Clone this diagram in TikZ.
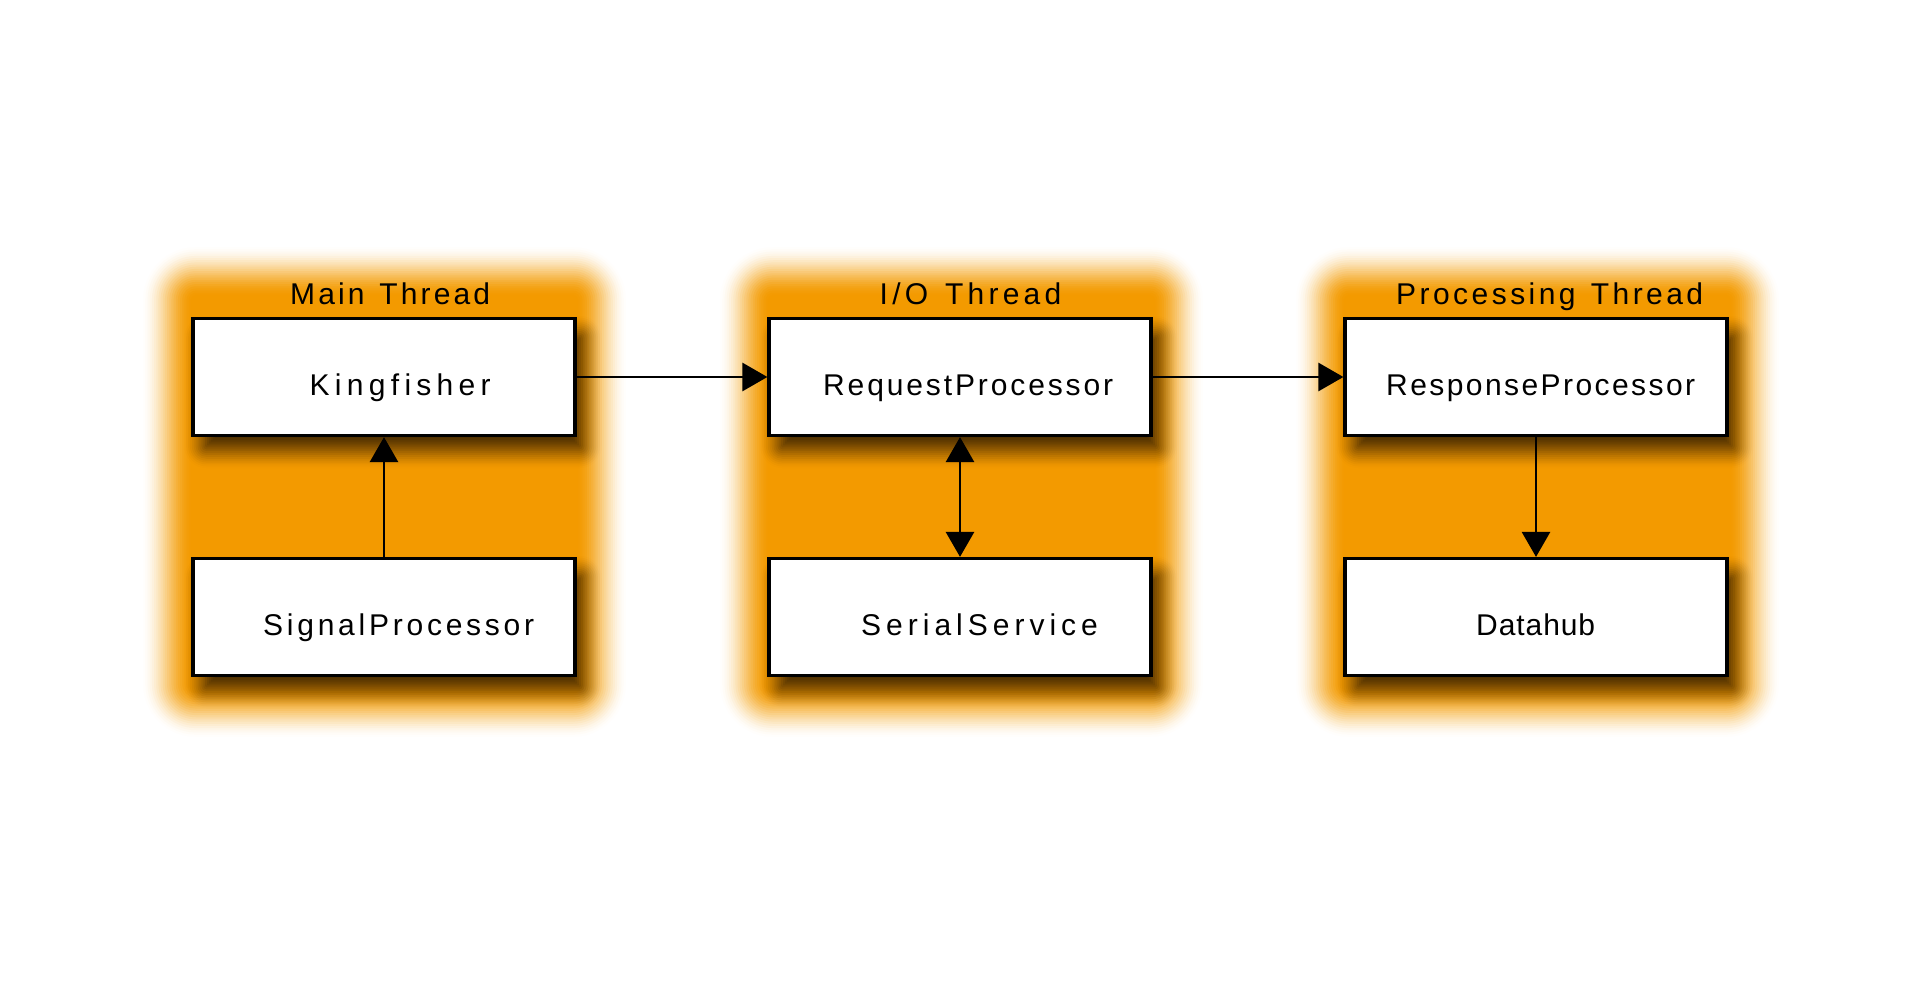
\documentclass[tikz,border=0pt]{standalone}
\usepackage{fontspec}
\usetikzlibrary{arrows.meta}
\newfontfamily\labfont{Liberation Sans}
\definecolor{thr}{RGB}{243,154,0}
\pgfdeclarelayer{bg}
\pgfsetlayers{bg,main}
\newdimen\lsk
\def\lsA#1{\ifx\relax#1\else#1\kern\lsk\expandafter\lsA\fi}
\newcommand\spread[3]{\setbox0\hbox{\lsk=0pt\lsA#3\relax}\lsk=\dimexpr(#1-\wd0)/#2\relax\lsA#3\relax}
\newcommand\panelblur[4]{%
 \foreach \k in {0,...,23}{%
  \pgfmathsetmacro\pE{26-52*(\k+0.5)/24}%
  \pgfmathsetmacro\pU{(\k+0.5)/24}%
  \pgfmathsetmacro\pT{100*(3*\pU*\pU-2*\pU*\pU*\pU)}%
  \pgfmathsetmacro\pR{max(4,30+\pE)}%
  \pgfmathsetmacro\xa{#1-\pE}\pgfmathsetmacro\ya{#2-\pE}%
  \pgfmathsetmacro\xb{#3+\pE}\pgfmathsetmacro\yb{#4+\pE}%
  \fill[thr!\pT!white, rounded corners=\pR pt] (\xa,\ya) rectangle (\xb,\yb);
 }}
\newcommand\boxshadow[1]{%
 \foreach \k in {0,...,19}{%
  \pgfmathsetmacro\pE{19-38*(\k+0.5)/20}%
  \pgfmathsetmacro\pU{(\k+0.5)/20}%
  \pgfmathsetmacro\pV{max(0,(\k-0.5)/20)}%
  \pgfmathsetmacro\pA{0.68*(3*\pU*\pU-2*\pU*\pU*\pU)}%
  \pgfmathsetmacro\pB{(\k>0)*0.68*(3*\pV*\pV-2*\pV*\pV*\pV)}%
  \pgfmathsetmacro\pO{(\pA-\pB)/(1-\pB)}%
  \pgfmathsetmacro\pR{max(0.5,6+\pE)}%
  \pgfmathsetmacro\xa{9-\pE}\pgfmathsetmacro\ya{-15+\pE}%
  \pgfmathsetmacro\xb{9+\pE}\pgfmathsetmacro\yb{-15-\pE}%
  \fill[black, fill opacity=\pO, rounded corners=\pR pt]
    ([xshift=\xa pt, yshift=\ya pt]#1.north west) rectangle ([xshift=\xb pt, yshift=\yb pt]#1.south east);
 }}
\tikzset{
  box/.style={draw=black, line width=3.2pt, fill=white, minimum width=382pt, minimum height=117pt, inner sep=0pt},
  lab/.style={font={\labfont\fontsize{30}{36}\selectfont}, inner sep=0pt, anchor=base west, text=black},
  arr/.style={line width=2.8pt, -{Triangle[length=25pt,width=28pt]}},
  arrtwo/.style={line width=2.8pt, {Triangle[length=25pt,width=28pt]}-{Triangle[length=25pt,width=28pt]}},
}
\begin{document}
\begin{tikzpicture}[x=1pt,y=-1pt]
\useasboundingbox (0,0) rectangle (1920,995);
% boxes
\node[box] (kf) at (384,377) {};
\node[box] (sp) at (384,617) {};
\node[box] (rq) at (960,377) {};
\node[box] (ss) at (960,617) {};
\node[box] (rs) at (1536,377) {};
\node[box] (dh) at (1536,617) {};
% background: panels and shadows
\begin{pgfonlayer}{bg}
\panelblur{166}{270}{603}{714}
\panelblur{743}{270}{1180}{714}
\panelblur{1319}{270}{1756}{714}
\boxshadow{kf}\boxshadow{sp}\boxshadow{rq}\boxshadow{ss}\boxshadow{rs}\boxshadow{dh}
\end{pgfonlayer}
% titles
\node[lab] (t1) at (290,305) {\spread{200pt}{10}{Main~Thread}};
\node[lab] (t2) at (879.5,305) {\spread{181.6pt}{9}{I/O~Thread}};
\node[lab] (t3) at (1396,305) {\spread{307pt}{16}{Processing~Thread}};
% labels
\node[lab] (kft) at (309.5,395.5) {\spread{181pt}{9}{Kingfisher}};
\node[lab] (spt) at (263,635) {\spread{271pt}{14}{SignalProcessor}};
\node[lab] (rqt) at (823,395.5) {\spread{290pt}{15}{RequestProcessor}};
\node[lab] (sst) at (861,635) {\spread{236.7pt}{12}{SerialService}};
\node[lab] (rst) at (1386,395.5) {\spread{309pt}{16}{ResponseProcessor}};
\node[lab] (dht) at (1476,635) {\spread{119pt}{6}{Datahub}};
% connectors
\draw[arr] (kf.east) -- (rq.west);
\draw[arr] (rq.east) -- (rs.west);
\draw[arr] (sp.north) -- (kf.south);
\draw[arrtwo] (rq.south) -- (ss.north);
\draw[arr] (rs.south) -- (dh.north);
\end{tikzpicture}
\end{document}
